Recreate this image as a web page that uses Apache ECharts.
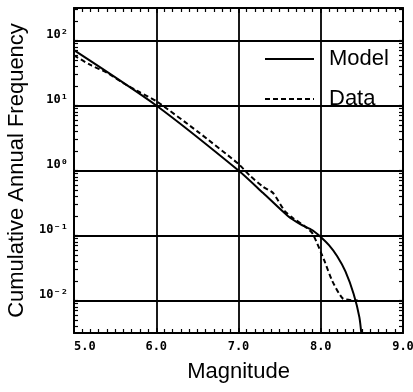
<!DOCTYPE html>
<html>
<head>
<meta charset="utf-8">
<script src="https://cdn.jsdelivr.net/npm/echarts@6/dist/echarts.min.js"></script>
<style>
  html, body { margin: 0; padding: 0; background: #fff; }
  #chart { width: 413px; height: 392px; }
</style>
</head>
<body>
<div id="chart"></div>
<script>
// magnitude vs cumulative annual frequency
const modelMag  = [5.0, 6.0, 7.0, 7.3, 7.6, 7.75, 7.9, 8.0, 8.1, 8.2, 8.3, 8.4, 8.47, 8.5];
const modelFreq = [71, 10, 1.0, 0.45, 0.2, 0.15, 0.12, 0.095, 0.071, 0.048, 0.028, 0.0126, 0.0055, 0.0025];

const dataMag  = [5.0, 5.2, 5.4, 5.6, 5.8, 6.0, 6.5, 7.0, 7.14, 7.3, 7.42, 7.56, 7.65, 7.8, 7.9, 8.04, 8.14, 8.27, 8.45];
const dataFreq = [59, 42, 32, 22, 16, 11.7, 4.0, 1.26, 0.83, 0.56, 0.45, 0.24, 0.19, 0.14, 0.107, 0.042, 0.020, 0.0107, 0.01];

const yTicks = [0.01, 0.1, 1, 10, 100];
const supers = { '-2': '⁻²', '-1': '⁻¹', '0': '⁰', '1': '¹', '2': '²' };

// log-style minor ticks 2..9 x 10^n
const yMinor = [];
for (let e = -3; e <= 2; e++) {
  for (let k = 1; k <= 9; k++) {
    const v = k * Math.pow(10, e);
    if (v > 0.0032 && v < 316) yMinor.push(v);
  }
}

const font = '"Liberation Sans", Arial, sans-serif';
const mono = '"DejaVu Sans Mono", monospace';
const yMin = Math.pow(10, -2.5);
const yMax = Math.pow(10, 2.5);

const chart = echarts.init(document.getElementById('chart'));

const option = {
  animation: false,
  backgroundColor: '#fff',
  grid: { left: 74, right: 10, top: 8, bottom: 59, outerBoundsMode: 'none', containLabel: false },
  legend: {
    orient: 'vertical',
    left: 264,
    top: 48,
    padding: 0,
    itemWidth: 49,
    itemHeight: 14,
    itemGap: 18,
    itemStyle: { color: 'rgba(0,0,0,0)', borderColor: 'rgba(0,0,0,0)', borderWidth: 0 },
    textStyle: { fontFamily: font, fontSize: 22, color: '#000', padding: [0, 0, 0, 10] },
    data: ['Model', 'Data']
  },
  xAxis: [
    {
      type: 'value', min: 5, max: 9, interval: 1, position: 'bottom',
      name: 'Magnitude', nameLocation: 'middle', nameGap: 28,
      nameTextStyle: { fontFamily: font, fontSize: 22, color: '#000' },
      axisLine: { lineStyle: { color: '#000', width: 2 } },
      axisTick: { inside: true, length: 5, lineStyle: { color: '#000', width: 1.5 } },
      minorTick: { show: true, splitNumber: 10, length: 4, lineStyle: { color: '#000', width: 1.2 } },
      axisLabel: {
        margin: 8, fontFamily: mono, fontSize: 12, fontWeight: 'bold', color: '#000',
        alignMinLabel: 'left',
        formatter: v => v.toFixed(1)
      },
      splitLine: { show: true, lineStyle: { color: '#000', width: 1.8 } }
    },
    {
      type: 'value', min: 5, max: 9, interval: 1, position: 'top',
      axisLine: { lineStyle: { color: '#000', width: 2 } },
      axisTick: { inside: true, length: 5, lineStyle: { color: '#000', width: 1.5 } },
      minorTick: { show: true, splitNumber: 10, length: 4, lineStyle: { color: '#000', width: 1.2 } },
      axisLabel: { show: false },
      splitLine: { show: false }
    }
  ],
  yAxis: [
    {
      type: 'log', min: yMin, max: yMax, position: 'left',
      name: 'Cumulative Annual Frequency', nameLocation: 'middle', nameGap: 44,
      nameTextStyle: { fontFamily: font, fontSize: 22, color: '#000' },
      axisLine: { show: true, lineStyle: { color: '#000', width: 2 } },
      axisTick: { inside: true, length: 6, lineStyle: { color: '#000', width: 1.5 } },
      axisLabel: {
        margin: 6, fontFamily: mono, fontSize: 12, fontWeight: 'bold', color: '#000',
        verticalAlign: 'bottom',
        customValues: yTicks,
        formatter: v => '10' + supers[String(Math.round(Math.log10(v)))]
      },
      splitLine: { show: true, lineStyle: { color: '#000', width: 1.8 } }
    },
    {
      type: 'log', min: yMin, max: yMax, position: 'left',
      axisLine: { show: false },
      axisTick: { show: true, inside: true, length: 4, customValues: yMinor, lineStyle: { color: '#000', width: 1.2 } },
      axisLabel: { show: false },
      splitLine: { show: false }
    },
    {
      type: 'log', min: yMin, max: yMax, position: 'right',
      axisLine: { show: true, lineStyle: { color: '#000', width: 2 } },
      axisTick: { show: true, inside: true, length: 4, customValues: yMinor, lineStyle: { color: '#000', width: 1.2 } },
      axisLabel: { show: false },
      splitLine: { show: false }
    }
  ],
  series: [
    {
      name: 'Model', type: 'line', xAxisIndex: 0, yAxisIndex: 0,
      symbol: 'none', smooth: 0.25,
      lineStyle: { color: '#000', width: 2 },
      itemStyle: { color: '#000' },
      data: modelMag.map((m, i) => [m, modelFreq[i]])
    },
    {
      name: 'Data', type: 'line', xAxisIndex: 0, yAxisIndex: 0,
      symbol: 'none', smooth: 0.2,
      lineStyle: { color: '#000', width: 2, type: [5, 3] },
      itemStyle: { color: '#000' },
      data: dataMag.map((m, i) => [m, dataFreq[i]])
    }
  ]
};

chart.setOption(option);
</script>
</body>
</html>
